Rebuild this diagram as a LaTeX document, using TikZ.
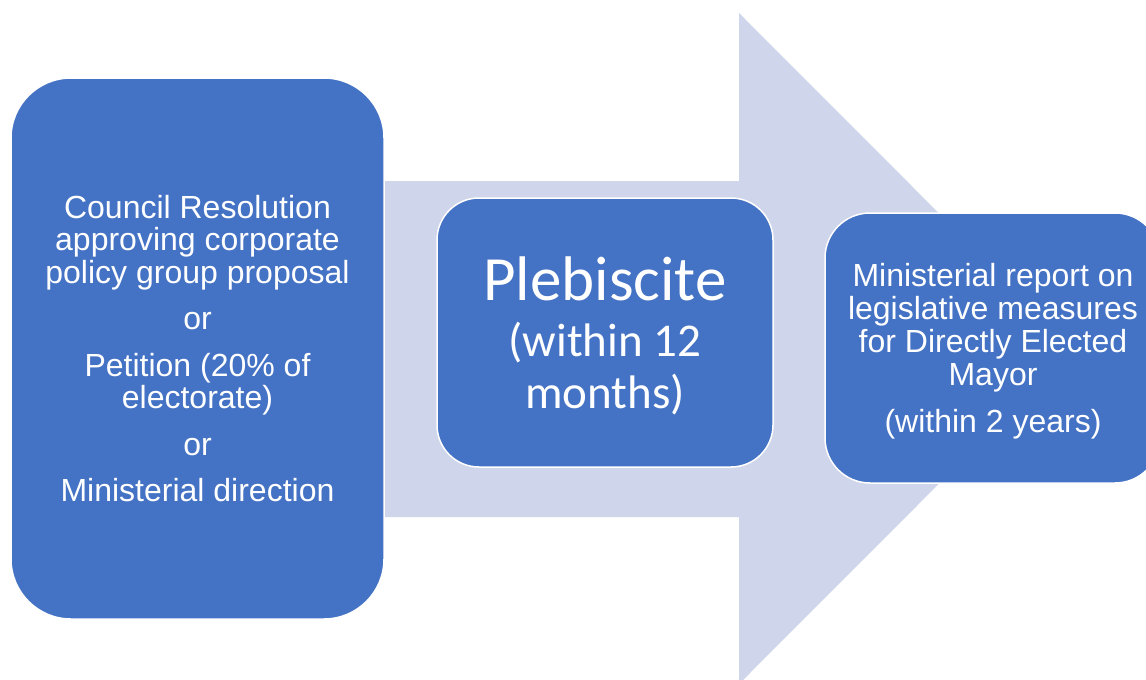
\documentclass[tikz,border=0pt]{standalone}
\usepackage{fontspec}
\setmainfont{Liberation Sans}
\newfontfamily\calib{Carlito}
\definecolor{boxblue}{HTML}{4472C4}
\definecolor{arrowfill}{HTML}{CFD5EA}
\begin{document}
\begin{tikzpicture}[x=1pt,y=-1pt,
  box/.style={fill=boxblue, draw=white, line width=1.5pt, text=white, align=center,
    inner sep=0pt, font=\fontsize{32}{32.5}\selectfont},
  label/.style={text=white, align=center, inner sep=0pt, font=\fontsize{32}{33}\selectfont},
  bigarrow/.style={fill=arrowfill}]
\useasboundingbox (0,0) rectangle (1146,680);
\clip (0,0) rectangle (1146,680);
\fill[white] (0,0) rectangle (1146,680);
% block arrow
\fill[bigarrow] (200,181) -- (739,181) -- (739,13) -- (1074,348.5) -- (739,684) -- (739,517) -- (200,517) -- cycle;
% boxes
\node[box, rounded corners=60pt, minimum width=373pt, minimum height=541pt] (b1) at (197.5,348.5)
  {Council Resolution\\approving corporate\\policy group proposal\\[14pt]or\\[14pt]Petition (20\% of\\electorate)\\[14pt]or\\[14pt]Ministerial direction};
\node[box, rounded corners=42pt, minimum width=336pt, minimum height=269pt] (b2) at (605,332.5) {};
\node[label, font=\calib\fontsize{47}{52}\selectfont] (t2) at (605,336)
  {{\fontsize{63}{63}\selectfont Plebiscite}\\[4pt](within 12\\months)};
\node[box, rounded corners=45pt, minimum width=335pt, minimum height=270pt] (b3) at (992.5,348) {};
\node[label] (t3) at (993,351.5)
  {Ministerial report on\\legislative measures\\for Directly Elected\\Mayor\\[14pt](within 2 years)};
\end{tikzpicture}
\end{document}
